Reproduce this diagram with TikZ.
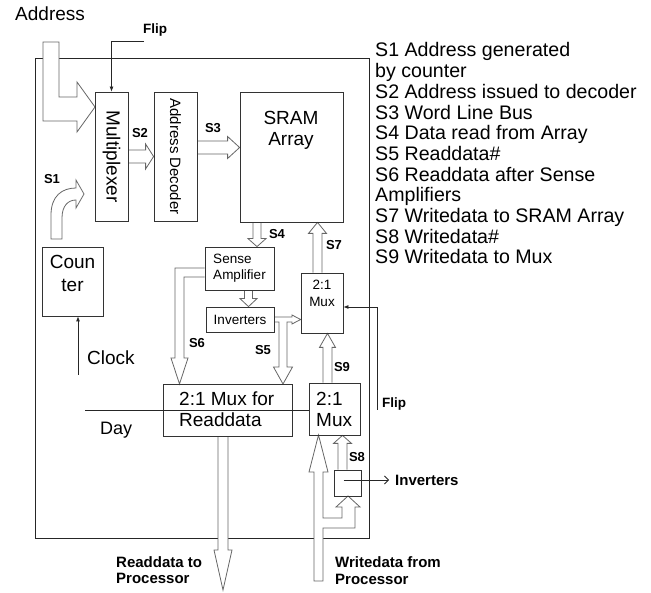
\documentclass[tikz,border=0pt]{standalone}
\usepackage{fontspec}
\setmainfont{Liberation Sans}
\usepackage{graphicx}
\usetikzlibrary{arrows.meta, calc, backgrounds}

% hollow block arrow from #1 to #2: half shaft, half head, head length
\newcommand{\fatarrow}[5]{%
  \coordinate (faA) at #1;
  \coordinate (faB) at #2;
  \draw[fat] ($(faA)!#3!90:(faB)$) -- ($(faB)!#5!(faA)!#3!90:(faB)$)
    -- ($(faB)!#5!(faA)!#4!90:(faB)$) -- (faB)
    -- ($(faB)!#5!(faA)!#4!-90:(faB)$) -- ($(faB)!#5!(faA)!#3!-90:(faB)$)
    -- ($(faA)!#3!-90:(faB)$);
}

\begin{document}
\begin{tikzpicture}[x=1pt, y=-1pt,
  box/.style={draw=black!80, line width=0.8pt, inner sep=0pt},
  txt/.style={font=\fontsize{19}{21}\selectfont, inner sep=0pt},
  smalltxt/.style={font=\fontsize{13.5}{16}\selectfont, inner sep=0pt, align=left},
  lab/.style={font=\fontsize{13}{15}\selectfont\bfseries, inner sep=0pt},
  biglab/.style={font=\fontsize{15}{16.5}\selectfont\bfseries, inner sep=0pt},
  note/.style={font=\fontsize{19.6}{21}\selectfont, inner sep=0pt, anchor=base west},
  fat/.style={draw=black!60, fill=white, line width=0.8pt, line join=miter},
  sig/.style={draw=black!85, line width=0.8pt, -{Latex[length=5pt,width=4pt]}},
  plain/.style={draw=black!85, line width=0.8pt}
]
  \useasboundingbox (0,0) rectangle (651,593);

  % blocks
  \node[box, txt, minimum width=33pt, minimum height=129pt] (mux) at (111.5,156.5) {\rotatebox{-90}{Multiplexer}};
  \node[box, font=\fontsize{15}{17}\selectfont, minimum width=43pt, minimum height=129pt] (dec) at (175.5,156.5) {\rotatebox{-90}{Address Decoder}};
  \node[box, minimum width=103pt, minimum height=130pt] (sram) at (291.5,157) {};
  \node[box, minimum width=61pt, minimum height=69pt] (cnt) at (72.5,281.5) {};
  \node[box, smalltxt, minimum width=69pt, minimum height=43pt] (sense) at (239.5,268.5) {Sense\\Amplifier};
  \node[box, smalltxt, minimum width=68pt, minimum height=25pt] (inv) at (240,319.5) {Inverters};
  \node[box, minimum width=42pt, minimum height=60pt] (amux) at (322,303) {};
  \node[box, minimum width=129pt, minimum height=52pt] (rdmux) at (227.5,410) {};
  \node[box, minimum width=51pt, minimum height=52pt] (wmux) at (334.5,409) {};
  \node[box, minimum width=27pt, minimum height=26pt] (winv) at (347.5,483) {};

  % block texts
  \node[txt, align=center] (sramtxt) at (291,130) {SRAM\\Array};
  \node[txt, align=center, font=\fontsize{19}{23}\selectfont] (cnttxt) at (72.5,273.5) {Coun\\ter};
  \node[smalltxt, align=center, font=\fontsize{13.5}{17}\selectfont] (amuxtxt) at (322,293.5) {2:1\\Mux};
  \node[txt, align=left, anchor=west] (rdtxt) at (179,409.7) {2:1 Mux for\\Readdata};
  \node[txt, align=left, anchor=west] (wmuxtxt) at (316,409.7) {2:1\\Mux};

  % outside labels
  \node[txt, anchor=base west] (addrlbl) at (15,21) {Address};
  \node[txt, anchor=base west] (clocklbl) at (87,365) {Clock};
  \node[txt, anchor=base west, font=\fontsize{18}{20}\selectfont] (daylbl) at (100,435) {Day};
  \node[lab, font=\fontsize{13.5}{15}\selectfont\bfseries, anchor=base] (flipA) at (155,34) {Flip};
  \node[lab, font=\fontsize{13.5}{15}\selectfont\bfseries, anchor=base west] (flipB) at (382,408) {Flip};
  \node[lab] (s1) at (52,179) {S1};
  \node[lab] (s2) at (140,133) {S2};
  \node[lab] (s3) at (213,128) {S3};
  \node[lab] (s4) at (277,234) {S4};
  \node[lab] (s5) at (263,350) {S5};
  \node[lab] (s6) at (197,343) {S6};
  \node[lab] (s7) at (334,245) {S7};
  \node[lab] (s8) at (357,457) {S8};
  \node[lab] (s9) at (342,367) {S9};
  \node[biglab, align=left, anchor=west] (rdlbl) at (116,570) {Readdata to\\Processor};
  \node[biglab, align=left, anchor=west] (wrlbl) at (335,570.5) {Writedata from\\Processor};
  \node[biglab, anchor=west, inner xsep=6pt] (invlbl) at (389,480) {Inverters};

  % legend
  \foreach \t [count=\i from 0] in {S1 Address generated, by counter,
      S2 Address issued to decoder, S3 Word Line Bus, S4 Data read from Array,
      S5 Readdata\#, S6 Readdata after Sense, Amplifiers,
      S7 Writedata to SRAM Array, S8 Writedata\#, S9 Writedata to Mux}
    \node[note] (leg\i) at (375,{57+20.7*\i}) {\t};

  % control lines
  \coordinate (flipin) at (144,41);
  \draw[sig] (flipin) -| (mux.north);
  \coordinate (flipin2) at (377,410);
  \draw[sig] (flipin2) |- ($(amux.east)+(0,4)$);
  \coordinate (clkin) at (78,375);
  \draw[sig] (clkin) -- (clkin |- cnt.south);
  \coordinate (dayin) at (85,410.5);
  \draw[plain] (dayin) -- (dayin -| wmux.west);
  \draw[plain, -{Straight Barb[length=4pt,width=8pt]}] ($(winv.center)+(-4,-3)$) -- (invlbl.west);

  \begin{pgfonlayer}{background}
    \draw[plain] (35,58) rectangle (369,538);
    % address in
    \draw[fat] (43,42) -- (59,42) -- (59,97) -- (77,97) -- (77,82) -- (95,107)
      -- (77,132) -- (77,121) -- (43,121) -- cycle;
    % S1
    \draw[fat] (51,239) -- (51,215) .. controls (51,196) and (62,188) .. (76,188)
      -- (76,180) -- (84,194) -- (76,208) -- (76,200)
      .. controls (68,200) and (62,206) .. (62,218) -- (62,239) -- cycle;
    \fatarrow{(mux.east)}{(dec.west)}{6.5pt}{12.5pt}{8pt}
    \fatarrow{($(dec.east)+(0,-9)$)}{($(sram.west)+(0,-9.5)$)}{6.5pt}{11pt}{12pt}
    \fatarrow{($(sram.south)+(-34.5,0)$)}{($(sense.north)+(17.5,0)$)}{4pt}{9pt}{8pt}
    \fatarrow{($(amux.north)+(-4.5,0)$)}{($(sram.south)+(26,0)$)}{4.5pt}{9pt}{11pt}
    \fatarrow{($(sense.south)+(9,0)$)}{($(inv.north)+(8.5,0)$)}{4pt}{8.5pt}{8pt}
    \fatarrow{($(wmux.north)+(-7,0)$)}{($(amux.south)+(5.5,0)$)}{4.5pt}{8pt}{14pt}
    \fatarrow{($(winv.north)+(-5,0)$)}{($(wmux.south)+(8,0)$)}{4.5pt}{9pt}{8pt}
    \coordinate (rdout) at (223,590);
    \fatarrow{($(rdmux.south)+(-4.5,0)$)}{(rdout)}{5pt}{9pt}{40pt}
    % S6
    \draw[fat] (sense.west |- 0,268) -- (175,268) -- (175,358) -- (171,358) -- (179.5,384)
      -- (188,358) -- (184,358) -- (184,277) -- (sense.west |- 0,277);
    % S5
    \draw[fat] (inv.east |- 0,317) -- (292,317) -- (292,315) -- (amux.west |- 0,319.5)
      -- (292,324) -- (292,322) -- (287,322) -- (287,367) -- (292.5,367) -- (283,384)
      -- (273.5,367) -- (279,367) -- (279,322) -- (inv.east |- 0,322);
    % write data in
    \draw[fat] (314,581) -- (314,472) -- (309,472) -- (318.5,435) -- (328,472) -- (323,472)
      -- (323,518) -- (342,518) -- (342,507) -- (336,507) -- (348,496) -- (360,507)
      -- (355,507) -- (355,528) -- (323,528) -- (323,581) -- cycle;
  \end{pgfonlayer}
\end{tikzpicture}
\end{document}
